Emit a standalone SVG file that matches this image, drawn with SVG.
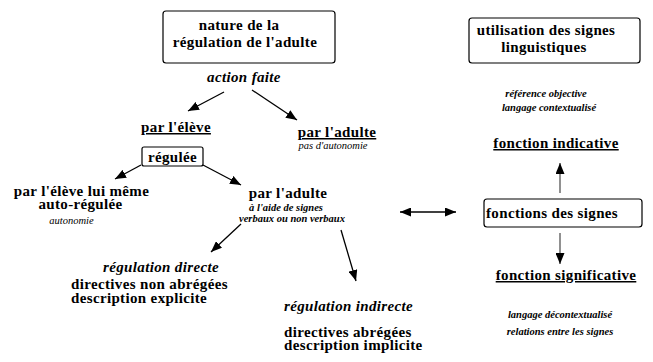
<svg xmlns="http://www.w3.org/2000/svg" width="653" height="362" viewBox="0 0 653 362">
<defs>
<marker id="ah" markerUnits="userSpaceOnUse" markerWidth="12" markerHeight="9" refX="11" refY="4.5" orient="auto-start-reverse">
<path d="M0,0 L11,4.5 L0,9 z" fill="#000"/>
</marker>
<style>
.b{font-weight:bold;font-size:15px;letter-spacing:0.35px}
.bi{font-weight:bold;font-style:italic;font-size:15px;letter-spacing:0.35px}
.si{font-weight:bold;font-style:italic;font-size:10.5px}
.ri{font-style:italic;font-size:10.5px}
.u{text-decoration:underline}
.m{text-anchor:middle}
.box{fill:#fff;stroke:#000;stroke-width:1.2}
.ln{stroke:#000;stroke-width:1.3;fill:none;marker-end:url(#ah)}
.g{stroke:#555}
</style>
</defs>
<rect width="653" height="362" fill="#fff"/>
<g id="connectors">
<line class="ln" x1="224" y1="92" x2="188" y2="111"/>
<line class="ln" x1="252" y1="90" x2="297" y2="120"/>
<line class="ln" x1="141" y1="165" x2="115" y2="179"/>
<line class="ln" x1="203" y1="165" x2="241" y2="185"/>
<line class="ln" x1="241" y1="224" x2="211" y2="252"/>
<line class="ln" x1="341" y1="230" x2="356" y2="281"/>
<line class="ln" x1="400" y1="212" x2="456" y2="212" style="marker-start:url(#ah)"/>
<line class="ln g" x1="560" y1="193" x2="560" y2="163"/>
<line class="ln g" x1="560" y1="233" x2="560" y2="264"/>
</g>
<g font-family="Liberation Serif, Times New Roman, serif" fill="#000">
<g id="nature">
<rect class="box" x="163" y="11" width="172" height="52" rx="3"/>
<text class="b m" x="239" y="30">nature de la</text>
<text class="b m" x="245" y="47">régulation de l'adulte</text>
</g>
<g id="action">
<text class="bi m" x="244" y="82">action faite</text>
</g>
<g id="par-eleve">
<text class="b u m" x="176" y="132">par l'élève</text>
</g>
<g id="par-adulte-1">
<text class="b u m" x="337" y="137">par l'adulte</text>
<text class="ri m" x="333" y="149">pas d'autonomie</text>
</g>
<g id="regulee">
<rect class="box" x="142" y="147" width="61" height="19" rx="2"/>
<text class="b m" x="172.5" y="162">régulée</text>
</g>
<g id="eleve-lui-meme">
<text class="b m" x="81.5" y="196">par l'élève lui même</text>
<text class="b m" x="80.5" y="209">auto-régulée</text>
<text class="ri m" x="71.5" y="224">autonomie</text>
</g>
<g id="par-adulte-2">
<text class="b m" x="288" y="198">par l'adulte</text>
<text class="si m" x="286" y="211">à l'aide de signes</text>
<text class="si m" x="292" y="222">verbaux ou non verbaux</text>
</g>
<g id="regulation-directe">
<text class="bi m" x="161" y="272">régulation directe</text>
<text class="b" x="71" y="289">directives non abrégées</text>
<text class="b" x="71" y="303">description explicite</text>
</g>
<g id="regulation-indirecte">
<text class="bi" x="284" y="311">régulation indirecte</text>
<text class="b" x="284" y="337">directives abrégées</text>
<text class="b" x="284" y="350">description implicite</text>
</g>
<g id="utilisation">
<rect class="box" x="469" y="18" width="171" height="45" rx="3"/>
<text class="b m" x="546" y="35">utilisation des signes</text>
<text class="b m" x="544" y="52">linguistiques</text>
</g>
<g id="indicative-notes">
<text class="si m" x="546" y="97">référence objective</text>
<text class="si m" x="549" y="111">langage contextualisé</text>
</g>
<g id="fonction-indicative">
<text class="b u m" x="556" y="148">fonction indicative</text>
</g>
<g id="fonctions-signes">
<rect class="box" x="484" y="199" width="158" height="28" rx="3"/>
<text class="b" x="486" y="218">fonctions des signes</text>
</g>
<g id="fonction-significative">
<text class="b u m" x="566" y="280">fonction significative</text>
</g>
<g id="significative-notes">
<text class="si m" x="560" y="318">langage décontextualisé</text>
<text class="si m" x="560" y="335">relations entre les signes</text>
</g>
</g>
</svg>
